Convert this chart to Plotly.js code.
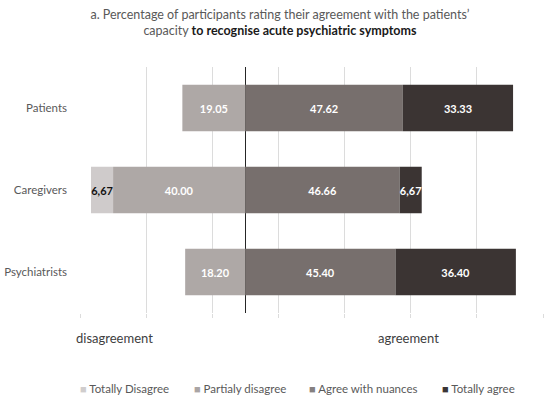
<!DOCTYPE html>
<html>
<head>
<meta charset="utf-8">
<script src="https://cdn.plot.ly/plotly-3.0.1.min.js"></script>
<style>html,body{margin:0;padding:0;background:#fff;}#chart{width:550px;height:399px;}</style>
</head>
<body>
<div id="chart"></div>
<script>
const groups = ["Patients", "Caregivers", "Psychiatrists"];
const totallyDisagree = [null, 6.67, null];
const partialyDisagree = [19.05, 40.00, 18.20];
const agreeNuances = [47.62, 46.66, 45.40];
const totallyAgree = [33.33, 6.67, 36.40];
const labTotallyDisagree = ["", "6,67", ""];
const labPartialyDisagree = ["19.05", "40.00", "18.20"];
const labAgreeNuances = ["47.62", "46.66", "45.40"];
const labTotallyAgree = ["33.33", "6,67", "36.40"];
const seriesNames = ["Totally Disagree", "Partialy disagree", "Agree with nuances", "Totally agree"];
const colors = ["#cfcbcb", "#aea8a6", "#776f6d", "#3b3433"];
const legendColors = ["#d0cdcd", "#aaa5a4", "#858080", "#3a3535"];
const legendX = [78, 192, 307, 440];   // pixel positions of legend entries
const FONT = 'Lato, "Open Sans", sans-serif';

const neg = a => a.map(v => v == null ? null : -v);
const common = {
  type: 'bar', orientation: 'h', y: groups,
  textposition: 'inside', insidetextanchor: 'middle', constraintext: 'none', textangle: 0,
  hoverinfo: 'skip', marker: {line: {width: 0}}, showlegend: false
};
const labelFont = c => ({family: FONT, size: 11, color: c, weight: 'bold'});

const traces = [
  Object.assign({}, common, {name: seriesNames[1], x: neg(partialyDisagree), text: labPartialyDisagree,
    marker: {color: colors[1]}, textfont: labelFont('#ffffff')}),
  Object.assign({}, common, {name: seriesNames[0], x: neg(totallyDisagree), text: labTotallyDisagree,
    marker: {color: colors[0]}, textfont: labelFont('#111111')}),
  Object.assign({}, common, {name: seriesNames[2], x: agreeNuances, text: labAgreeNuances,
    marker: {color: colors[2]}, textfont: labelFont('#ffffff')}),
  Object.assign({}, common, {name: seriesNames[3], x: totallyAgree, text: labTotallyAgree,
    marker: {color: colors[3]}, textfont: labelFont('#ffffff')})
];

const L = 80, PW = 463;
const px2paper = p => (p - L) / PW;

const legendAnn = seriesNames.map((n, i) => ({
  text: "<span style='color:" + legendColors[i] + ";font-size:11px'>■</span> " + n,
  xref: 'paper', yref: 'paper', x: px2paper(legendX[i]), y: -0.305,
  xanchor: 'left', yanchor: 'middle', showarrow: false,
  font: {family: FONT, size: 11.5, color: '#595959'}
}));

const layout = {
  width: 550, height: 399,
  margin: {l: L, r: 7, t: 67, b: 86},
  paper_bgcolor: '#ffffff', plot_bgcolor: '#ffffff',
  font: {family: FONT, size: 11.5, color: '#595959'},
  barmode: 'relative', bargap: 0.43,
  title: {
    text: "a. Percentage of participants rating their agreement with the patients’<br>capacity <b><span style='color:#1a1a1a'>to recognise acute psychiatric symptoms</span></b>",
    font: {family: FONT, size: 12.5, color: '#595959'},
    xref: 'container', x: 0.509, xanchor: 'center',
    yref: 'container', y: 0.953, yanchor: 'middle'
  },
  xaxis: {
    range: [-50, 90], tick0: -50, dtick: 20, showticklabels: false,
    showgrid: true, gridcolor: '#dcdcdc', gridwidth: 1,
    zeroline: true, zerolinecolor: '#262626', zerolinewidth: 1.5,
    ticks: 'outside', ticklen: 4, tickcolor: '#dcdcdc', showline: false, fixedrange: true
  },
  yaxis: {
    autorange: 'reversed', showgrid: false, zeroline: false, showline: false,
    ticks: '', ticklabelstandoff: 12,
    tickfont: {family: FONT, size: 11.5, color: '#595959'}
  },
  showlegend: false,
  annotations: [
    {text: 'disagreement', xref: 'paper', yref: 'paper', x: px2paper(114), y: -0.1, xanchor: 'center', yanchor: 'middle',
      showarrow: false, font: {family: FONT, size: 13, color: '#404040'}},
    {text: 'agreement', xref: 'paper', yref: 'paper', x: px2paper(408), y: -0.1, xanchor: 'center', yanchor: 'middle',
      showarrow: false, font: {family: FONT, size: 13, color: '#404040'}}
  ].concat(legendAnn)
};

Plotly.newPlot('chart', traces, layout, {displayModeBar: false, staticPlot: true});
</script>
</body>
</html>
